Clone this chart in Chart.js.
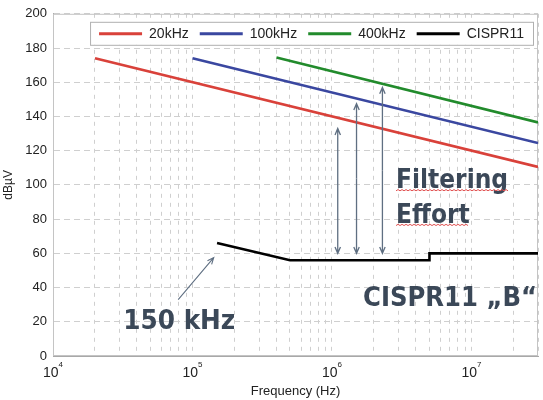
<!DOCTYPE html>
<html>
<head>
<meta charset="utf-8">
<script src="https://cdn.jsdelivr.net/npm/chart.js@4.4.1/dist/chart.umd.min.js"></script>
<style>
html, body { margin: 0; padding: 0; background: #fff; }
#grafico { width: 543px; height: 400px; }
</style>
</head>
<body>
<div id="grafico"><canvas id="cv"></canvas></div>
<script>
// series (frequency in Hz, level in dBµV)
const f20k = [2e4, 3e7]
const v20k = [174, 110.5]
const f100k = [1e5, 3e7]
const v100k = [174, 124.5]
const f400k = [4e5, 3e7]
const v400k = [174.5, 136.5]
const fCispr = [1.5e5, 5e5, 5e6, 5e6, 3e7]
const vCispr = [66, 56, 56, 60, 60]

const serieNomes = ["20kHz", "100kHz", "400kHz", "CISPR11"]
const serieCores = ["#d9413a", "#3a47a0", "#228b2c", "#000000"]

// axis
const xDecadas = [1e4, 1e5, 1e6, 1e7]
const xExpoentes = ["4", "5", "6", "7"]
const yTicks = [0, 20, 40, 60, 80, 100, 120, 140, 160, 180, 200]

// annotations
const setaX = [1.1e6, 1.5e6, 2.3e6]
const setaTopo = [133, 147.5, 157]
const setaBase = [60, 60, 60]

const pontos = (xs, ys) => xs.map((x, i) => ({ x: x, y: ys[i] }))

const corTexto = "#3b4858"
const fonteArial = '"Liberation Sans", Arial, sans-serif'
const fonteGrande = 'bold 26px "DejaVu Sans Condensed", "DejaVu Sans", sans-serif'

// all log ticks 1..9 per decade, up to max
const todosTicks = []
xDecadas.forEach(d => {
    for (let m = 1; m <= 9; m++) {
        if (d * m <= 3e7) todosTicks.push(d * m)
    }
})

const desenhaSeta = (ctx, x1, y1, x2, y2, cab) => {
    const ang = Math.atan2(y2 - y1, x2 - x1)
    ctx.beginPath()
    ctx.moveTo(x1, y1)
    ctx.lineTo(x2, y2)
    ctx.moveTo(x2 - cab * Math.cos(ang - 0.4), y2 - cab * Math.sin(ang - 0.4))
    ctx.lineTo(x2, y2)
    ctx.lineTo(x2 - cab * Math.cos(ang + 0.4), y2 - cab * Math.sin(ang + 0.4))
    ctx.stroke()
}

const sublinhado = (ctx, x1, x2, y) => {
    ctx.save()
    ctx.strokeStyle = "#e05050"
    ctx.lineWidth = 1
    ctx.beginPath()
    let up = true
    ctx.moveTo(x1, y)
    for (let x = x1 + 2; x <= x2; x += 2) {
        ctx.lineTo(x, up ? y - 1.2 : y)
        up = !up
    }
    ctx.stroke()
    ctx.restore()
}

// text stretched to a given width
const textoLargo = (ctx, txt, x, y, largura) => {
    const w = ctx.measureText(txt).width
    ctx.save()
    ctx.translate(x, y)
    ctx.scale(largura / w, 1)
    ctx.fillText(txt, 0, 0)
    ctx.restore()
}

const extras = {
    id: "extras",
    beforeDatasetsDraw(chart) {
        const { ctx, chartArea: a } = chart
        ctx.save()
        ctx.strokeStyle = "#c4c4c4"
        ctx.lineWidth = 1
        ctx.strokeRect(a.left + 0.5, a.top + 0.5, a.right - a.left - 1, a.bottom - a.top - 1)
        ctx.restore()
    },
    afterDatasetsDraw(chart) {
        const { ctx, chartArea: a, scales } = chart
        const sx = scales.x, sy = scales.y
        ctx.save()

        // x tick labels 10^n
        ctx.fillStyle = "#222"
        ctx.textBaseline = "alphabetic"
        xDecadas.forEach((d, i) => {
            const px = sx.getPixelForValue(d)
            ctx.font = "14px " + fonteArial
            const wb = ctx.measureText("10").width
            ctx.font = "8px " + fonteArial
            const we = ctx.measureText(xExpoentes[i]).width
            const x0 = px - (wb + we) / 2
            ctx.font = "14px " + fonteArial
            ctx.textAlign = "left"
            ctx.fillText("10", x0, a.bottom + 21)
            ctx.font = "8px " + fonteArial
            ctx.fillText(xExpoentes[i], x0 + wb, a.bottom + 11)
        })

        // vertical double arrows
        ctx.strokeStyle = "#5f6f82"
        ctx.lineWidth = 1.3
        setaX.forEach((f, i) => {
            const px = sx.getPixelForValue(f)
            const pt = sy.getPixelForValue(setaTopo[i])
            const pb = sy.getPixelForValue(setaBase[i])
            desenhaSeta(ctx, px, (pt + pb) / 2, px, pt, 7)
            desenhaSeta(ctx, px, (pt + pb) / 2, px, pb, 7)
        })

        // arrow to 150 kHz
        ctx.lineWidth = 1.1
        desenhaSeta(ctx, sx.getPixelForValue(7.9e4), sy.getPixelForValue(33),
            sx.getPixelForValue(1.42e5), sy.getPixelForValue(57.5), 7)

        // big texts
        ctx.fillStyle = corTexto
        ctx.font = fonteGrande
        ctx.textBaseline = "alphabetic"
        ctx.textAlign = "left"
        const tx = sx.getPixelForValue(2.88e6)
        const t1 = sy.getPixelForValue(98.3)
        const t2 = sy.getPixelForValue(78)
        ctx.fillText("Filtering", tx, t1)
        ctx.fillText("Effort", tx, t2)
        sublinhado(ctx, tx, tx + ctx.measureText("Filtering").width, t1 + 3)
        sublinhado(ctx, tx, tx + ctx.measureText("Effort").width, t2 + 3)

        const cxTxt = sx.getPixelForValue(1.67e6)
        textoLargo(ctx, "CISPR11 \u201eB\u201c", cxTxt, sy.getPixelForValue(29), a.right - 1 - cxTxt)
        const kx = sx.getPixelForValue(3.19e4)
        textoLargo(ctx, "150 kHz", kx, sy.getPixelForValue(15.5), 112)

        // legend
        ctx.font = "14px " + fonteArial
        ctx.textBaseline = "middle"
        const amostra = 43, gap = 7, entre = 11, margem = 9
        const larguras = serieNomes.map(n => ctx.measureText(n).width)
        let total = margem * 2
        larguras.forEach((w, i) => { total += amostra + gap + w + (i < larguras.length - 1 ? entre : 0) })
        const bx = a.right - 5 - total, by = a.top + 8, bh = 23
        ctx.fillStyle = "#fff"
        ctx.fillRect(bx, by, total, bh)
        ctx.strokeStyle = "#b0b0b0"
        ctx.lineWidth = 1
        ctx.strokeRect(bx + 0.5, by + 0.5, total, bh)
        let cx = bx + margem
        const cy = by + bh / 2 + 0.5
        serieNomes.forEach((n, i) => {
            ctx.strokeStyle = serieCores[i]
            ctx.lineWidth = 3
            ctx.beginPath()
            ctx.moveTo(cx, cy)
            ctx.lineTo(cx + amostra, cy)
            ctx.stroke()
            cx += amostra + gap
            ctx.fillStyle = "#222"
            ctx.fillText(n, cx, cy + 0.5)
            cx += larguras[i] + entre
        })
        ctx.restore()
    }
}

const ds = (i, xs, ys) => ({
    label: serieNomes[i],
    data: pontos(xs, ys),
    borderColor: serieCores[i],
    backgroundColor: serieCores[i],
    borderWidth: 2.6,
    pointRadius: 0,
    tension: 0,
    fill: false
})

new Chart(document.getElementById("cv"), {
    type: "line",
    data: {
        datasets: [
            ds(0, f20k, v20k),
            ds(1, f100k, v100k),
            ds(2, f400k, v400k),
            ds(3, fCispr, vCispr)
        ]
    },
    plugins: [extras],
    options: {
        responsive: true,
        maintainAspectRatio: false,
        animation: false,
        events: [],
        layout: { padding: { top: 8, right: 5, left: 0, bottom: 0 } },
        plugins: {
            legend: { display: false },
            tooltip: { enabled: false }
        },
        scales: {
            x: {
                type: "logarithmic",
                min: 1e4,
                max: 3e7,
                afterBuildTicks: s => { s.ticks = todosTicks.map(v => ({ value: v })) },
                afterFit: s => { s.height = 44 },
                ticks: {
                    autoSkip: false,
                    maxRotation: 0,
                    callback: () => ""
                },
                grid: { color: "#cfcfcf", lineWidth: 1, drawTicks: false },
                border: { display: true, color: "#a8a8a8", dash: [4, 5] },
                title: {
                    display: true,
                    text: "Frequency (Hz)",
                    color: "#222",
                    font: { family: fonteArial, size: 13 },
                    padding: { top: 0, bottom: 1 }
                }
            },
            y: {
                min: 0,
                max: 200,
                afterBuildTicks: s => { s.ticks = yTicks.map(v => ({ value: v })) },
                afterFit: s => { s.width = 53 },
                ticks: {
                    padding: 6,
                    color: "#222",
                    font: { family: fonteArial, size: 13 }
                },
                grid: { color: "#cfcfcf", lineWidth: 1, drawTicks: false },
                border: { display: true, color: "#a8a8a8", dash: [6, 4] },
                title: {
                    display: true,
                    text: "dBµV",
                    color: "#222",
                    font: { family: fonteArial, size: 12 },
                    padding: { top: 1, bottom: 0 }
                }
            }
        }
    }
})
</script>
</body>
</html>
